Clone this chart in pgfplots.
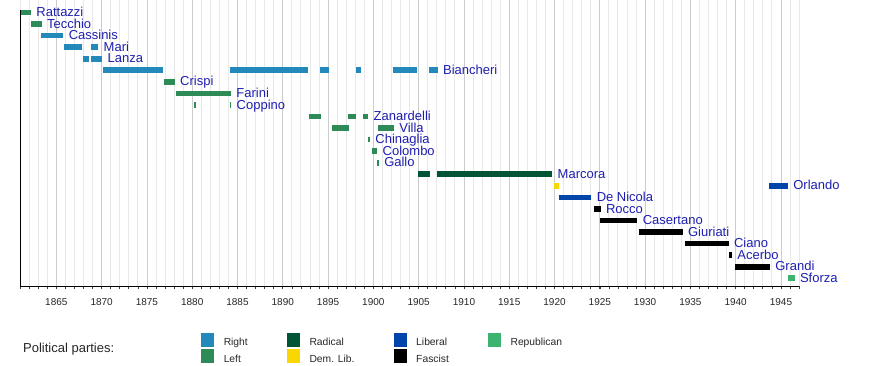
\documentclass[border=0pt]{standalone}
\usepackage{fontspec}
\setmainfont{Liberation Sans}
\usepackage{pgfplots}
\pgfplotsset{compat=1.18}
\definecolor{cRight}{RGB}{35,137,186}
\definecolor{cLeft}{RGB}{46,139,87}
\definecolor{cRadical}{RGB}{0,85,55}
\definecolor{cDemLib}{RGB}{250,215,0}
\definecolor{cLiberal}{RGB}{0,70,170}
\definecolor{cFascist}{RGB}{0,0,0}
\definecolor{cRepublican}{RGB}{60,179,113}
\definecolor{lbl}{RGB}{30,30,175}
\tikzset{lab/.style={pos=1, anchor=base west, inner sep=0pt, xshift=2.6pt, yshift=-4.1pt, text=lbl, font=\fontsize{13}{14}\selectfont}}
\pgfplotsset{bar/.style={forget plot, line width=5.7pt, mark=none}}
\begin{document}
\begin{tikzpicture}[x=1pt,y=1pt]
\useasboundingbox (0,0) rectangle (880,366);
\begin{axis}[
  at={(20.1pt,80pt)}, anchor=south west,
  scale only axis, width=779pt, height=286pt,
  xmin=1861, xmax=1947,
  ymin=-0.0816, ymax=24.665, y dir=reverse,
  clip=false,
  axis x line*=bottom, axis y line=none,
  ytick=\empty,
  xtick={1865,1870,...,1945},
  minor xtick={1861,1862,...,1947},
  xmajorgrids, xminorgrids,
  major grid style={draw=black!20, line width=0.8pt},
  minor grid style={draw=black!9, line width=0.8pt},
  tick align=outside,
  major tick length=3pt, minor tick length=3pt,
  every tick/.style={black!75, line width=0.6pt},
  x axis line style={black, line width=0.9pt},
  xticklabel style={font=\fontsize{10}{12}\selectfont, text=black!85, yshift=-6pt},
  /pgf/number format/.cd, 1000 sep={}, assume math mode=true, /pgfplots/.cd,
  legend columns=4,
  legend cell align=left,
  legend style={at={(0.2327,-0.1643)}, anchor=north west, draw=none, fill=none,
    inner sep=0pt, outer sep=0pt, font=\fontsize{10.3}{12}\selectfont, text=black!85,
    row sep=2.7pt, nodes={inner sep=0pt, text height=7.4pt, text depth=0pt},
    /tikz/every even column/.append style={column sep=39.3pt},
    /tikz/every odd column/.append style={column sep=9.4pt}},
  legend image code/.code={\fill[#1, draw=none] (0pt,-4.7pt) rectangle (13pt,9pt);},
]
% Row 1 Rattazzi
\addplot[bar, cLeft] coordinates {(1861.1,1) (1862.2,1)} node[lab]{Rattazzi};
% Row 2 Tecchio
\addplot[bar, cLeft] coordinates {(1862.2,2) (1863.38,2)} node[lab]{Tecchio};
% Row 3 Cassinis
\addplot[bar, cRight] coordinates {(1863.31,3) (1865.77,3)} node[lab]{Cassinis};
% Row 4 Mari
\addplot[bar, cRight] coordinates {(1865.85,4) (1867.8,4)};
\addplot[bar, cRight] coordinates {(1868.83,4) (1869.63,4)} node[lab]{Mari};
% Row 5 Lanza
\addplot[bar, cRight] coordinates {(1867.98,5) (1868.6,5)};
\addplot[bar, cRight] coordinates {(1868.83,5) (1870.07,5)} node[lab]{Lanza};
% Row 6 Biancheri
\addplot[bar, cRight] coordinates {(1870.18,6) (1876.74,6)};
\addplot[bar, cRight] coordinates {(1884.17,6) (1892.75,6)};
\addplot[bar, cRight] coordinates {(1894.14,6) (1895.07,6)};
\addplot[bar, cRight] coordinates {(1898.08,6) (1898.6,6)};
\addplot[bar, cRight] coordinates {(1902.13,6) (1904.85,6)};
\addplot[bar, cRight] coordinates {(1906.13,6) (1907.1,6)} node[lab]{Biancheri};
% Row 7 Crispi
\addplot[bar, cLeft] coordinates {(1876.89,7) (1878.07,7)} node[lab]{Crispi};
% Row 8 Farini
\addplot[bar, cLeft] coordinates {(1878.21,8) (1884.28,8)} node[lab]{Farini};
% Row 9 Coppino
\addplot[bar, cLeft] coordinates {(1880.23,9) (1880.4,9)};
\addplot[bar, cLeft] coordinates {(1884.18,9) (1884.31,9)} node[lab]{Coppino};
% Row 10 Zanardelli
\addplot[bar, cLeft] coordinates {(1892.85,10) (1894.18,10)};
\addplot[bar, cLeft] coordinates {(1897.23,10) (1898.05,10)};
\addplot[bar, cLeft] coordinates {(1898.88,10) (1899.44,10)} node[lab]{Zanardelli};
% Row 11 Villa
\addplot[bar, cLeft] coordinates {(1895.4,11) (1897.31,11)};
\addplot[bar, cLeft] coordinates {(1900.54,11) (1902.27,11)} node[lab]{Villa};
% Row 12 Chinaglia
\addplot[bar, cLeft] coordinates {(1899.46,12) (1899.63,12)} node[lab]{Chinaglia};
% Row 13 Colombo
\addplot[bar, cLeft] coordinates {(1899.88,13) (1900.43,13)} node[lab]{Colombo};
% Row 14 Gallo
\addplot[bar, cLeft] coordinates {(1900.43,14) (1900.6,14)} node[lab]{Gallo};
% Row 15 Marcora
\addplot[bar, cRadical] coordinates {(1904.92,15) (1906.21,15)};
\addplot[bar, cRadical] coordinates {(1907.01,15) (1919.75,15)} node[lab]{Marcora};
% Row 16 Orlando
\addplot[bar, cDemLib] coordinates {(1919.9,16) (1920.49,16)};
\addplot[bar, cLiberal] coordinates {(1943.7,16) (1945.76,16)} node[lab]{Orlando};
% Row 17 De Nicola
\addplot[bar, cLiberal] coordinates {(1920.45,17) (1924.06,17)} node[lab]{De Nicola};
% Row 18 Rocco
\addplot[bar, cFascist] coordinates {(1924.35,18) (1925.09,18)} node[lab]{Rocco};
% Row 19 Casertano
\addplot[bar, cFascist] coordinates {(1924.98,19) (1929.14,19)} node[lab]{Casertano};
% Row 20 Giuriati
\addplot[bar, cFascist] coordinates {(1929.31,20) (1934.14,20)} node[lab]{Giuriati};
% Row 21 Ciano
\addplot[bar, cFascist] coordinates {(1934.4,21) (1939.22,21)} node[lab]{Ciano};
% Row 22 Acerbo
\addplot[bar, cFascist] coordinates {(1939.22,22) (1939.59,22)} node[lab]{Acerbo};
% Row 23 Grandi
\addplot[bar, cFascist] coordinates {(1939.92,23) (1943.78,23)} node[lab]{Grandi};
% Row 24 Sforza
\addplot[bar, cRepublican] coordinates {(1945.76,24) (1946.5,24)} node[lab]{Sforza};
% left axis line
\draw[black, line width=0.9pt] (axis cs:1861,24.665) -- (axis cs:1861,0.784);
% legend
\addlegendimage{fill=cRight}\addlegendentry{Right}
\addlegendimage{fill=cRadical}\addlegendentry{Radical}
\addlegendimage{fill=cLiberal}\addlegendentry{Liberal}
\addlegendimage{fill=cRepublican}\addlegendentry{Republican}
\addlegendimage{fill=cLeft}\addlegendentry{Left}
\addlegendimage{fill=cDemLib}\addlegendentry{Dem. Lib.}
\addlegendimage{fill=cFascist}\addlegendentry{Fascist}
\end{axis}
\node[anchor=base west, inner sep=0pt, font=\fontsize{13}{15}\selectfont, text=black!85] at (23,13) {Political parties:};
\end{tikzpicture}
\end{document}
